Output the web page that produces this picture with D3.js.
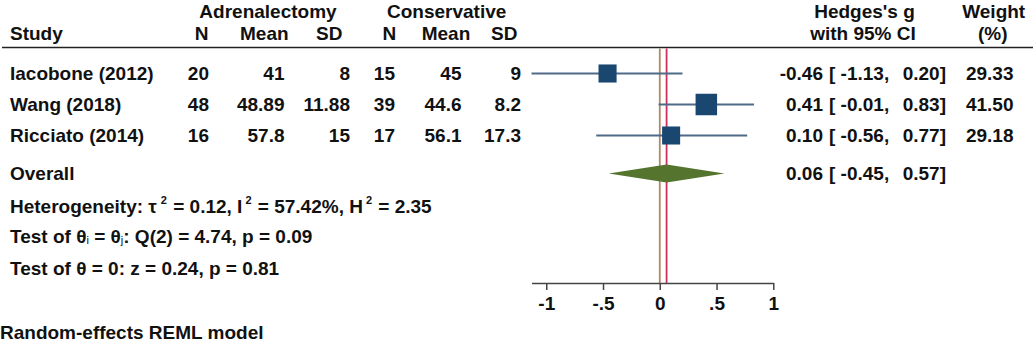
<!DOCTYPE html>
<html>
<head>
<meta charset="utf-8">
<script src="https://cdn.jsdelivr.net/npm/d3@7"></script>
<style>
  html, body { margin: 0; padding: 0; background: #fff; }
  svg { display: block; }
  text { font-family: "Liberation Sans", Arial, sans-serif; font-weight: bold; font-size: 19px; fill: #111; }
</style>
</head>
<body>
<svg id="chart" width="1036" height="342"></svg>
<script>
// ---- data ----
const studies = ["Iacobone (2012)", "Wang (2018)", "Ricciato (2014)"];
const adrN = ["20", "48", "16"];
const adrMean = ["41", "48.89", "57.8"];
const adrSD = ["8", "11.88", "15"];
const conN = ["15", "39", "17"];
const conMean = ["45", "44.6", "56.1"];
const conSD = ["9", "8.2", "17.3"];
const effect = [-0.46, 0.41, 0.10];
const ciLow = [-1.13, -0.01, -0.56];
const ciHigh = [0.20, 0.83, 0.77];
const weight = [29.33, 41.50, 29.18];
const overallEffect = 0.06;
const overallLow = -0.45;
const overallHigh = 0.57;
const tickValues = [-1, -0.5, 0, 0.5, 1];
const tickLabels = ["-1", "-.5", "0", ".5", "1"];

// ---- layout ----
const svg = d3.select("#chart");
const rowCenter = d3.scaleLinear().domain([0, 1]).range([73.5, 104.5]); // row index -> center y
const overallY = 173.5;
const axisY = 283;
const headerLineY = 47.5;
const capHalf = 6.8;
const topBase = 17.5;

const x = d3.scaleLinear().domain([d3.min(ciLow), 1]).range([531.5, 773.3]);
const size = d3.scaleSqrt().domain([0, d3.max(weight)]).range([0, 21.5]);

const fmt2 = v => d3.format(".2f")(v).replace("\u2212", "-");

// headers
svg.append("text").attr("x", 268).attr("y", topBase).attr("text-anchor", "middle").text("Adrenalectomy");
svg.append("text").attr("x", 446.7).attr("y", topBase).attr("text-anchor", "middle").text("Conservative");
svg.append("text").attr("x", 10).attr("y", 40).text("Study");
const headerCols = [
  {t: "N", x: 201.7}, {t: "Mean", x: 264.3}, {t: "SD", x: 329.3},
  {t: "N", x: 389.3}, {t: "Mean", x: 446}, {t: "SD", x: 504.3}
];
svg.selectAll("text.hcol").data(headerCols).enter().append("text")
  .attr("class", "hcol").attr("x", d => d.x).attr("y", 40).attr("text-anchor", "middle").text(d => d.t);
svg.append("text").attr("x", 864.5).attr("y", topBase).attr("text-anchor", "middle").text("Hedges's g");
svg.append("text").attr("x", 863).attr("y", 40).attr("text-anchor", "middle").text("with 95% CI");
svg.append("text").attr("x", 993.7).attr("y", topBase).attr("text-anchor", "middle").text("Weight");
svg.append("text").attr("x", 992.7).attr("y", 40).attr("text-anchor", "middle").text("(%)");

svg.append("line").attr("x1", 2).attr("x2", 1033).attr("y1", headerLineY).attr("y2", headerLineY)
  .attr("stroke", "#222").attr("stroke-width", 1.5);

// table columns
const cols = [
  {vals: adrN, x: 209}, {vals: adrMean, x: 284.5}, {vals: adrSD, x: 350},
  {vals: conN, x: 395}, {vals: conMean, x: 461.5}, {vals: conSD, x: 521}
];
studies.forEach((s, i) => {
  const yb = rowCenter(i) + capHalf;
  svg.append("text").attr("x", 10).attr("y", yb).text(s);
  cols.forEach(c => {
    svg.append("text").attr("x", c.x).attr("y", yb).attr("text-anchor", "end").text(c.vals[i]);
  });
  svg.append("text").attr("x", 823).attr("y", yb).attr("text-anchor", "end").text(fmt2(effect[i]));
  svg.append("text").attr("x", 829).attr("y", yb).text("[ " + fmt2(ciLow[i]) + ",");
  svg.append("text").attr("x", 946).attr("y", yb).attr("text-anchor", "end").text(fmt2(ciHigh[i]) + "]");
  svg.append("text").attr("x", 1013.5).attr("y", yb).attr("text-anchor", "end").text(fmt2(weight[i]));
});

// overall row
svg.append("text").attr("x", 10).attr("y", overallY + capHalf).text("Overall");
svg.append("text").attr("x", 823).attr("y", overallY + capHalf).attr("text-anchor", "end").text(fmt2(overallEffect));
svg.append("text").attr("x", 829).attr("y", overallY + capHalf).text("[ " + fmt2(overallLow) + ",");
svg.append("text").attr("x", 946).attr("y", overallY + capHalf).attr("text-anchor", "end").text(fmt2(overallHigh) + "]");

// stats text
const het = svg.append("text").attr("x", 10).attr("y", 213);
het.append("tspan").text("Heterogeneity: τ");
het.append("tspan").attr("dx", 4).attr("dy", -9).style("font-size", "11px").text("2");
het.append("tspan").attr("dx", 1).attr("dy", 9).text(" = 0.12, I");
het.append("tspan").attr("dx", 3).attr("dy", -9).style("font-size", "11px").text("2");
het.append("tspan").attr("dx", 1).attr("dy", 9).text(" = 57.42%, H");
het.append("tspan").attr("dx", 3).attr("dy", -9).style("font-size", "11px").text("2");
het.append("tspan").attr("dx", 1).attr("dy", 9).text(" = 2.35");

const t1 = svg.append("text").attr("x", 10).attr("y", 243);
t1.append("tspan").text("Test of θ");
t1.append("tspan").attr("dy", 1).style("font-size", "11px").style("font-weight", "normal").text("i");
t1.append("tspan").attr("dy", -1).text(" = θ");
t1.append("tspan").attr("dy", 1).style("font-size", "11px").style("font-weight", "normal").text("j");
t1.append("tspan").attr("dy", -1).text(": Q(2) = 4.74, p = 0.09");

svg.append("text").attr("x", 10).attr("y", 275).text("Test of θ = 0: z = 0.24, p = 0.81");
svg.append("text").attr("x", 0).attr("y", 339).text("Random-effects REML model");

// reference lines
svg.append("line").attr("x1", x(0)).attr("x2", x(0)).attr("y1", headerLineY + 1).attr("y2", axisY)
  .attr("stroke", "#b3876a").attr("stroke-width", 1.8);
svg.append("line").attr("x1", x(overallEffect)).attr("x2", x(overallEffect)).attr("y1", headerLineY + 1).attr("y2", axisY)
  .attr("stroke", "#cf3060").attr("stroke-width", 1.8);

// CIs and squares
const g = svg.append("g");
studies.forEach((s, i) => {
  const cy = rowCenter(i);
  g.append("line").attr("x1", x(ciLow[i])).attr("x2", x(ciHigh[i])).attr("y1", cy).attr("y2", cy)
    .attr("stroke", "#4f6a88").attr("stroke-width", 1.8);
  const sz = size(weight[i]);
  g.append("rect").attr("x", x(effect[i]) - sz / 2).attr("y", cy - sz / 2).attr("width", sz).attr("height", sz)
    .attr("fill", "#1a476f");
});

// overall diamond
const dh = 9;
svg.append("path")
  .attr("d", `M${x(overallLow)},${overallY} L${x(overallEffect)},${overallY - dh} L${x(overallHigh)},${overallY} L${x(overallEffect)},${overallY + dh} Z`)
  .attr("fill", "#55752f");

// axis
const axis = d3.axisBottom(x).tickValues(tickValues).tickSize(7).tickSizeOuter(0).tickPadding(7)
  .tickFormat((d, i) => tickLabels[i]);
const ax = svg.append("g").attr("transform", `translate(0,${axisY})`).call(axis);
ax.select(".domain").attr("stroke", "#444").attr("stroke-width", 1.5);
ax.selectAll(".tick line").attr("stroke", "#444").attr("stroke-width", 1.5);
ax.selectAll(".tick text").attr("fill", "#111")
  .style("font-family", "'Liberation Sans', Arial, sans-serif").style("font-weight", "bold").style("font-size", "19px");
</script>
</body>
</html>
